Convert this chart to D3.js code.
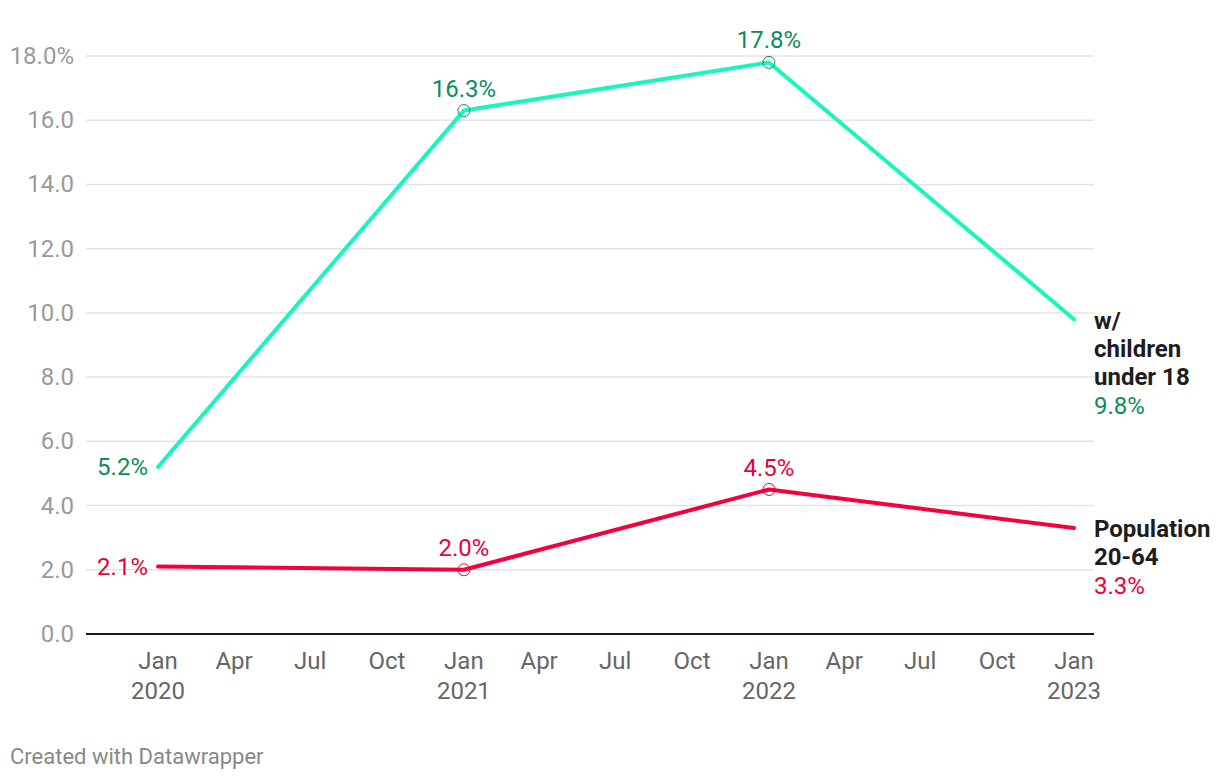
<!DOCTYPE html>
<html>
<head>
<meta charset="utf-8">
<script src="https://cdn.jsdelivr.net/npm/d3@7"></script>
<style>
  body { margin: 0; background: #fff; font-family: Roboto, "Noto Sans", sans-serif; }
  svg text { font-family: Roboto, "Noto Sans", sans-serif; }
</style>
</head>
<body>
<svg id="chart" width="1220" height="780"></svg>
<script>
	// data
	var dates = ["2020-01-01", "2021-01-01", "2022-01-01", "2023-01-01"];
	var children = [5.2, 16.3, 17.8, 9.8];
	var population = [2.1, 2.0, 4.5, 3.3];
	var yTicks = [0, 2, 4, 6, 8, 10, 12, 14, 16, 18];
	var seriesNames = [["w/", "children", "under 18"], ["Population", "20-64"]];

	var parse = d3.timeParse("%Y-%m-%d");
	var dd = dates.map(parse);

	var svg = d3.select("#chart");
	var gLeft = 86, gRight = 1094, gTop = 56, gBottom = 634;

	var x = d3.scaleTime()
		.domain([dd[0], dd[dd.length - 1]])
		.range([158, 1074]);
	var y = d3.scaleLinear().domain([0, 18]).range([gBottom, gTop]);

	// grid
	svg.append("g").selectAll("line").data(yTicks.slice(1)).enter().append("line")
		.attr("x1", gLeft).attr("x2", gRight)
		.attr("y1", function(d) { return y(d); })
		.attr("y2", function(d) { return y(d); })
		.style("stroke", "#e3e3e3").style("stroke-width", 1.5);

	svg.append("g").selectAll("text").data(yTicks).enter().append("text")
		.attr("x", 74).attr("y", function(d) { return y(d) + 8; })
		.attr("text-anchor", "end")
		.style("font-size", "24px").style("fill", "#9a9a9a")
		.text(function(d, i) { return d.toFixed(1) + (i == yTicks.length - 1 ? "%" : ""); });

	svg.append("line")
		.attr("x1", gLeft).attr("x2", gRight).attr("y1", y(0)).attr("y2", y(0))
		.style("stroke", "#1a1a1a").style("stroke-width", 2);

	// x axis labels
	var months = d3.timeMonth.every(3).range(dd[0], d3.timeDay.offset(dd[dd.length - 1], 1));
	var fmt = d3.timeFormat("%b");
	var xl = svg.append("g").selectAll("text").data(months).enter().append("text")
		.attr("x", function(d) { return x(d); })
		.attr("y", 669)
		.attr("text-anchor", "middle")
		.style("font-size", "24px").style("fill", "#666");
	xl.append("tspan").attr("x", function(d) { return x(d); }).text(fmt);
	xl.filter(function(d) { return d.getMonth() == 0; })
		.append("tspan").attr("x", function(d) { return x(d); }).attr("dy", 30)
		.text(function(d) { return d.getFullYear(); });

	var series = [
		{ vals: children, line: "#1af5c0", text: "#0b8d5a", names: seriesNames[0] },
		{ vals: population, line: "#f5003f", text: "#ea0039", names: seriesNames[1] }
	];

	var lineGen = d3.line()
		.x(function(d, i) { return x(dd[i]); })
		.y(function(d) { return y(d); });

	series.forEach(function(s) {
		svg.append("path")
			.datum(s.vals)
			.attr("d", lineGen)
			.style("fill", "none").style("stroke", s.line)
			.style("stroke-width", 4).style("stroke-linecap", "round").style("stroke-linejoin", "round");

		// markers on middle points
		svg.selectAll(null).data(s.vals.slice(1, 3)).enter().append("circle")
			.attr("cx", function(d, i) { return x(dd[i + 1]); })
			.attr("cy", function(d) { return y(d); })
			.attr("r", 6)
			.style("fill", "none").style("stroke", s.text).style("stroke-width", 1);

		// first value to the left
		svg.append("text")
			.attr("x", x(dd[0]) - 10).attr("y", y(s.vals[0]) + 8)
			.attr("text-anchor", "end")
			.style("font-size", "24px").style("fill", s.text)
			.text(s.vals[0].toFixed(1) + "%");

		// middle values above
		svg.selectAll(null).data(s.vals.slice(1, 3)).enter().append("text")
			.attr("x", function(d, i) { return x(dd[i + 1]); })
			.attr("y", function(d) { return y(d) - 14; })
			.attr("text-anchor", "middle")
			.style("font-size", "24px").style("fill", s.text)
			.text(function(d) { return d.toFixed(1) + "%"; });
	});

	// direct labels on the right
	var lastVal = series.map(function(s) { return s.vals[s.vals.length - 1]; });
	var labTop = [329, 537];
	series.forEach(function(s, k) {
		var t = svg.append("text").attr("x", 1094).attr("y", labTop[k])
			.style("font-size", "24px");
		s.names.forEach(function(n, j) {
			t.append("tspan").attr("x", 1094).attr("dy", j == 0 ? 0 : 28)
				.style("font-weight", "bold").style("fill", "#1d1d1d").text(n);
		});
		t.append("tspan").attr("x", 1094).attr("dy", 29)
			.style("fill", s.text).text(lastVal[k].toFixed(1) + "%");
	});

	svg.append("text").attr("x", 10).attr("y", 764)
		.style("font-size", "22px").style("fill", "#888")
		.text("Created with Datawrapper");
</script>
</body>
</html>
